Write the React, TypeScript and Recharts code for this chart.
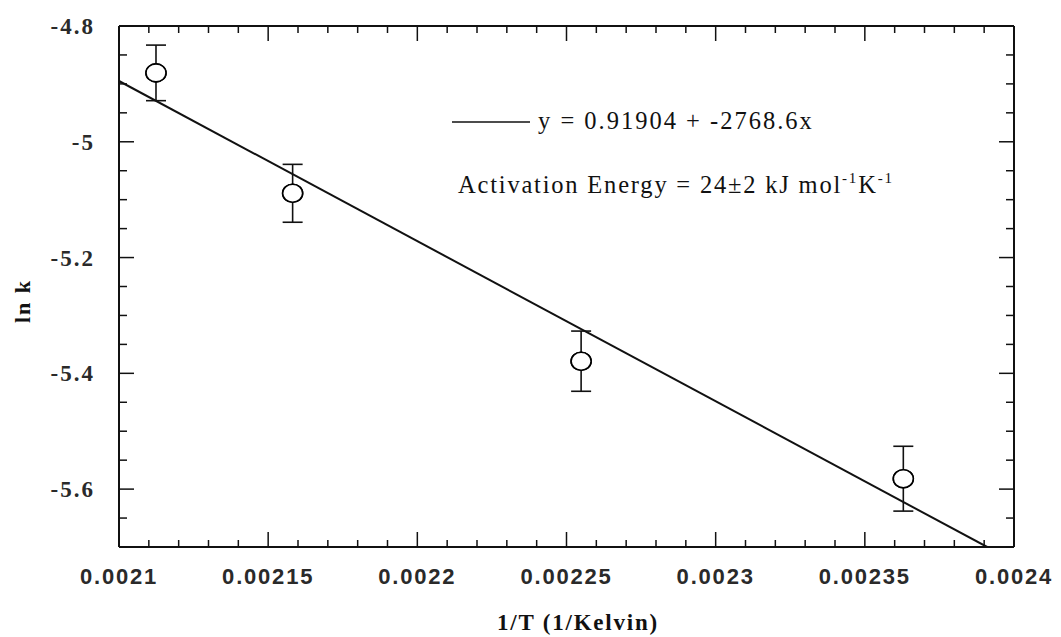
import React from 'react';
import { ScatterChart, Scatter, XAxis, YAxis, ErrorBar, Customized } from 'recharts';

// Measured data points (1/T, ln k) with error bars
const invT = [0.0021124, 0.0021582, 0.0022549, 0.0023629];
const lnK = [-4.881, -5.089, -5.379, -5.582];
const lnKErr = [0.048, 0.05, 0.052, 0.056];

// Fitted line endpoints (y = 0.91904 + -2768.6x), clipped to the frame
const fitX = [0.0021, 0.002391];
const fitY = [-4.895, -5.7];

// Axis ticks
const xMajorTicks = [0.0021, 0.00215, 0.0022, 0.00225, 0.0023, 0.00235, 0.0024];
const xTickLabels = ['0.0021', '0.00215', '0.0022', '0.00225', '0.0023', '0.00235', '0.0024'];
const yMajorTicks = [-4.8, -5, -5.2, -5.4, -5.6];
const yTickLabels = ['-4.8', '-5', '-5.2', '-5.4', '-5.6'];

const xMinorTicks: number[] = [];
for (let i = 0; i <= 30; i++) xMinorTicks.push(Math.round((0.0021 + i * 0.00001) * 1e8) / 1e8);
const yMinorTicks: number[] = [];
for (let i = 0; i <= 18; i++) yMinorTicks.push(Math.round((-5.7 + i * 0.05) * 1000) / 1000);

const points = invT.map((x, i) => ({ x, y: lnK[i], err: lnKErr[i] }));
const fit = fitX.map((x, i) => ({ x, y: fitY[i] }));

const xMajorIdx = (v: number) => xMajorTicks.findIndex((m) => Math.abs(m - v) < 1e-9);
const yMajorIdx = (v: number) => yMajorTicks.findIndex((m) => Math.abs(m - v) < 1e-6);

const TICK = '#111';
const SERIF = '"Liberation Serif", "Times New Roman", serif';
const SANS = '"Liberation Sans", "DejaVu Sans", sans-serif';

const BottomTick = (props: any) => {
  const { x, y, payload } = props;
  const idx = xMajorIdx(payload.value);
  const major = idx >= 0;
  return (
    <g>
      <line x1={x} x2={x} y1={y} y2={y - (major ? 15 : 7)} stroke={TICK} strokeWidth={1.5} />
      {major && (
        <text x={x} y={y + 37} textAnchor="middle" fontFamily={SANS} fontWeight="bold" fontSize={22} letterSpacing={1.8} fill="#2a2a2a">
          {xTickLabels[idx]}
        </text>
      )}
    </g>
  );
};

const TopTick = (props: any) => {
  const { x, y, payload } = props;
  const major = xMajorIdx(payload.value) >= 0;
  return <line x1={x} x2={x} y1={y} y2={y + (major ? 15 : 7)} stroke={TICK} strokeWidth={1.5} />;
};

const LeftTick = (props: any) => {
  const { x, y, payload } = props;
  const idx = yMajorIdx(payload.value);
  const major = idx >= 0;
  return (
    <g>
      <line x1={x} x2={x + (major ? 15 : 8)} y1={y} y2={y} stroke={TICK} strokeWidth={1.5} />
      {major && (
        <text x={x - 24} y={y + 8} textAnchor="end" fontFamily={SERIF} fontWeight="bold" fontSize={23} letterSpacing={2} fill="#2a2a2a">
          {yTickLabels[idx]}
        </text>
      )}
    </g>
  );
};

const RightTick = (props: any) => {
  const { x, y, payload } = props;
  const major = yMajorIdx(payload.value) >= 0;
  return <line x1={x} x2={x - (major ? 15 : 8)} y1={y} y2={y} stroke={TICK} strokeWidth={1.5} />;
};

const Circle = (props: any) => (
  <ellipse cx={props.cx} cy={props.cy} rx={10} ry={9} fill="#fff" stroke="#000" strokeWidth={1.6} />
);

const Nothing = () => <g />;

const Annotation = () => (
  <g fontFamily={SERIF} fill="#111">
    <line x1={444} x2={522} y1={114} y2={114} stroke="#111" strokeWidth={1.5} />
    <text x={530} y={121} fontSize={24.5} letterSpacing={2}>y = 0.91904 + -2768.6x</text>
    <text x={450} y={185} fontSize={24.5} letterSpacing={1.8}>
      Activation Energy = 24±2 kJ mol
      <tspan fontSize={15} dy={-10}>-1</tspan>
      <tspan dy={10}>K</tspan>
      <tspan fontSize={15} dy={-10}>-1</tspan>
    </text>
    <text
      transform="translate(22, 293) rotate(-90)"
      textAnchor="middle"
      fontSize={22}
      fontWeight="bold"
      letterSpacing={2}
    >
      ln k
    </text>
    <text x={570} y={622} textAnchor="middle" fontSize={23} fontWeight="bold" letterSpacing={1.8}>
      1/T (1/Kelvin)
    </text>
  </g>
);

export default function App() {
  return (
    <ScatterChart width={1045} height={629} margin={{ top: 17, right: 38, bottom: 0, left: 0 }}>
      <XAxis
        xAxisId="bottom"
        dataKey="x"
        type="number"
        orientation="bottom"
        domain={[0.0021, 0.0024]}
        ticks={xMinorTicks}
        interval={0}
        tickSize={0}
        tickMargin={0}
        tickLine={false}
        tick={<BottomTick />}
        axisLine={{ stroke: '#111', strokeWidth: 2 }}
        height={90}
        allowDataOverflow
      />
      <XAxis
        xAxisId="top"
        dataKey="x"
        type="number"
        orientation="top"
        domain={[0.0021, 0.0024]}
        ticks={xMinorTicks}
        interval={0}
        tickSize={0}
        tickMargin={0}
        tickLine={false}
        tick={<TopTick />}
        axisLine={{ stroke: '#111', strokeWidth: 2 }}
        height={1}
        allowDataOverflow
      />
      <YAxis
        yAxisId="left"
        dataKey="y"
        type="number"
        orientation="left"
        domain={[-5.7, -4.8]}
        ticks={yMinorTicks}
        interval={0}
        tickSize={0}
        tickMargin={0}
        tickLine={false}
        tick={<LeftTick />}
        axisLine={{ stroke: '#111', strokeWidth: 2 }}
        width={111}
        allowDataOverflow
      />
      <YAxis
        yAxisId="right"
        dataKey="y"
        type="number"
        orientation="right"
        domain={[-5.7, -4.8]}
        ticks={yMinorTicks}
        interval={0}
        tickSize={0}
        tickMargin={0}
        tickLine={false}
        tick={<RightTick />}
        axisLine={{ stroke: '#111', strokeWidth: 2 }}
        width={1}
        allowDataOverflow
      />
      <Scatter
        xAxisId="bottom"
        yAxisId="left"
        data={fit}
        line={{ stroke: '#111', strokeWidth: 2 }}
        shape={<Nothing />}
        isAnimationActive={false}
      />
      <Scatter xAxisId="bottom" yAxisId="left" data={points} shape={<Circle />} isAnimationActive={false}>
        <ErrorBar dataKey="err" direction="y" width={10} stroke="#111" strokeWidth={1.6} isAnimationActive={false} />
      </Scatter>
      <Scatter xAxisId="bottom" yAxisId="left" data={points} shape={<Circle />} isAnimationActive={false} />
      <Customized component={Annotation} />
    </ScatterChart>
  );
}
